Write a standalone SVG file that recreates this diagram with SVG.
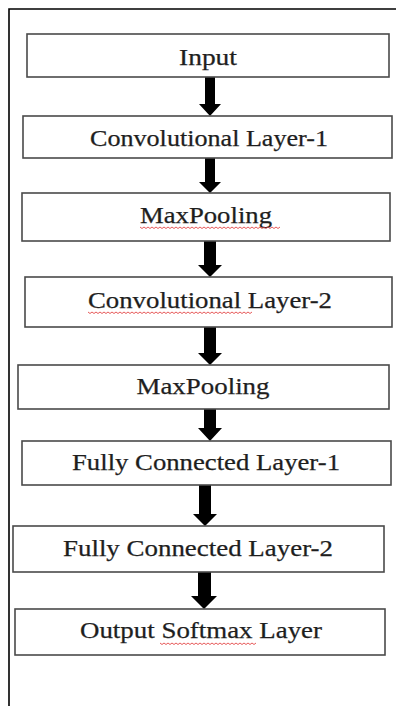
<svg xmlns="http://www.w3.org/2000/svg" width="396" height="706" viewBox="0 0 396 706">
<style>
.box{fill:#fff;stroke:#4a4a4a;stroke-width:1.6}
.lbl{font-family:"Liberation Serif","Times New Roman",serif;font-size:23px;fill:#1e1e1e;stroke:#1e1e1e;stroke-width:0.25;text-anchor:middle}
.arr{fill:#000}
.sq{fill:none;stroke:#e03030;stroke-width:0.8}
</style>
<rect width="396" height="706" fill="#fff"/>
<path d="M9 706 V9 H396" fill="none" stroke="#000" stroke-width="1.6"/>
<g id="connectors">
<path class="arr" d="M205 77 H215 V104 H221 L210 116 L199 104 H205 Z"/>
<path class="arr" d="M205 158 H215 V182 H221 L210 193 L199 182 H205 Z"/>
<path class="arr" d="M204 241 H216 V265 H222 L210 277 L198 265 H204 Z"/>
<path class="arr" d="M204 327 H216 V353 H222 L210 365 L198 353 H204 Z"/>
<path class="arr" d="M204 409 H216 V428 H222 L210 441 L198 428 H204 Z"/>
<path class="arr" d="M199 485 H211 V514 H217 L205 526 L193 514 H199 Z"/>
<path class="arr" d="M198 572 H211 V596 H217 L204 609 L191 596 H198 Z"/>
</g>
<g id="n1"><rect class="box" x="27" y="34" width="362" height="43"/><text class="lbl" x="208" y="65" textLength="58" lengthAdjust="spacingAndGlyphs">Input</text></g>
<g id="n2"><rect class="box" x="23" y="116" width="369" height="42"/><text class="lbl" x="209" y="146" textLength="238" lengthAdjust="spacingAndGlyphs">Convolutional Layer-1</text></g>
<g id="n3"><rect class="box" x="22" y="193" width="368" height="48"/><text class="lbl" x="206" y="223" textLength="132" lengthAdjust="spacingAndGlyphs">MaxPooling</text><path class="sq" d="M140 227 l2 1.5 l2 -1.5 l2 1.5 l2 -1.5 l2 1.5 l2 -1.5 l2 1.5 l2 -1.5 l2 1.5 l2 -1.5 l2 1.5 l2 -1.5 l2 1.5 l2 -1.5 l2 1.5 l2 -1.5 l2 1.5 l2 -1.5 l2 1.5 l2 -1.5 l2 1.5 l2 -1.5 l2 1.5 l2 -1.5 l2 1.5 l2 -1.5 l2 1.5 l2 -1.5 l2 1.5 l2 -1.5 l2 1.5 l2 -1.5 l2 1.5 l2 -1.5 l2 1.5 l2 -1.5 l2 1.5 l2 -1.5 l2 1.5 l2 -1.5 l2 1.5 l2 -1.5 l2 1.5 l2 -1.5 l2 1.5 l2 -1.5 l2 1.5 l2 -1.5 l2 1.5 l2 -1.5 l2 1.5 l2 -1.5 l2 1.5 l2 -1.5 l2 1.5 l2 -1.5 l2 1.5 l2 -1.5 l2 1.5 l2 -1.5 l2 1.5 l2 -1.5 l2 1.5 l2 -1.5 l2 1.5 l2 -1.5 l2 1.5 l2 -1.5 l2 1.5 l2 -1.5"/></g>
<g id="n4"><rect class="box" x="25" y="277" width="367" height="50"/><text class="lbl" x="210" y="308" textLength="244" lengthAdjust="spacingAndGlyphs">Convolutional Layer-2</text><path class="sq" d="M88 312 l2 1.5 l2 -1.5 l2 1.5 l2 -1.5 l2 1.5 l2 -1.5 l2 1.5 l2 -1.5 l2 1.5 l2 -1.5 l2 1.5 l2 -1.5 l2 1.5 l2 -1.5 l2 1.5 l2 -1.5 l2 1.5 l2 -1.5 l2 1.5 l2 -1.5 l2 1.5 l2 -1.5 l2 1.5 l2 -1.5 l2 1.5 l2 -1.5 l2 1.5 l2 -1.5 l2 1.5 l2 -1.5 l2 1.5 l2 -1.5 l2 1.5 l2 -1.5 l2 1.5 l2 -1.5 l2 1.5 l2 -1.5 l2 1.5 l2 -1.5 l2 1.5 l2 -1.5 l2 1.5 l2 -1.5 l2 1.5 l2 -1.5 l2 1.5 l2 -1.5 l2 1.5 l2 -1.5 l2 1.5 l2 -1.5 l2 1.5 l2 -1.5 l2 1.5 l2 -1.5 l2 1.5 l2 -1.5 l2 1.5 l2 -1.5 l2 1.5 l2 -1.5 l2 1.5 l2 -1.5 l2 1.5 l2 -1.5 l2 1.5 l2 -1.5 l2 1.5 l2 -1.5 l2 1.5 l2 -1.5 l2 1.5 l2 -1.5 l2 1.5 l2 -1.5 l2 1.5 l2 -1.5 l2 1.5 l2 -1.5 l2 1.5 l2 -1.5"/></g>
<g id="n5"><rect class="box" x="18" y="365" width="371" height="44"/><text class="lbl" x="203" y="394" textLength="133" lengthAdjust="spacingAndGlyphs">MaxPooling</text></g>
<g id="n6"><rect class="box" x="22" y="441" width="369" height="44"/><text class="lbl" x="206" y="470" textLength="268" lengthAdjust="spacingAndGlyphs">Fully Connected Layer-1</text></g>
<g id="n7"><rect class="box" x="13" y="526" width="371" height="46"/><text class="lbl" x="198" y="556" textLength="270" lengthAdjust="spacingAndGlyphs">Fully Connected Layer-2</text></g>
<g id="n8"><rect class="box" x="15" y="609" width="370" height="46"/><text class="lbl" x="201" y="638" textLength="242" lengthAdjust="spacingAndGlyphs">Output Softmax Layer</text><path class="sq" d="M160 643 l2 1.5 l2 -1.5 l2 1.5 l2 -1.5 l2 1.5 l2 -1.5 l2 1.5 l2 -1.5 l2 1.5 l2 -1.5 l2 1.5 l2 -1.5 l2 1.5 l2 -1.5 l2 1.5 l2 -1.5 l2 1.5 l2 -1.5 l2 1.5 l2 -1.5 l2 1.5 l2 -1.5 l2 1.5 l2 -1.5 l2 1.5 l2 -1.5 l2 1.5 l2 -1.5 l2 1.5 l2 -1.5 l2 1.5 l2 -1.5 l2 1.5 l2 -1.5 l2 1.5 l2 -1.5 l2 1.5 l2 -1.5 l2 1.5 l2 -1.5 l2 1.5 l2 -1.5 l2 1.5 l2 -1.5 l2 1.5 l2 -1.5 l2 1.5 l2 -1.5"/></g>
</svg>
